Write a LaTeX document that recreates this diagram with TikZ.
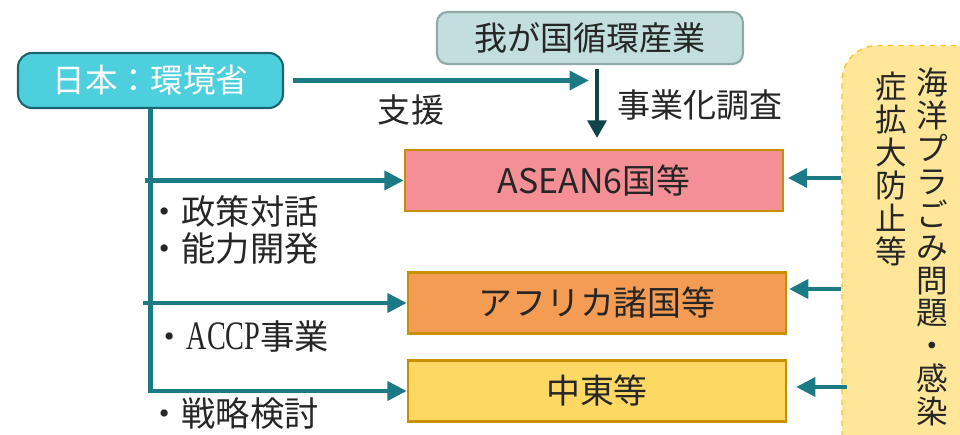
\documentclass[tikz,border=0pt]{standalone}
\usepackage{fontspec}
\setmainfont{Noto Sans CJK JP}
\newfontfamily\accpfont[FakeStretch=0.7]{Liberation Serif}
\usetikzlibrary{arrows.meta}
\definecolor{lineteal}{HTML}{1B7A84}
\definecolor{darkteal}{HTML}{0F4448}
\definecolor{jpnfill}{HTML}{4ECFDD}
\definecolor{jpnedge}{HTML}{1A6670}
\definecolor{topfill}{HTML}{C2DEDE}
\definecolor{topedge}{HTML}{90A8A6}
\definecolor{aseanfill}{HTML}{F48F96}
\definecolor{africafill}{HTML}{F49C54}
\definecolor{mefill}{HTML}{FDD964}
\definecolor{areaedge}{HTML}{C89000}
\definecolor{panelfill}{HTML}{FFE699}
\definecolor{paneledge}{HTML}{F4C430}
\definecolor{txt}{HTML}{262626}
\begin{document}
\begin{tikzpicture}[
  x=0.02cm, y=-0.02cm,
  font=\fontsize{18.8}{22}\selectfont, text=txt,
  jpnbox/.style={draw=jpnedge, fill=jpnfill, rounded corners=8pt, line width=1.2pt, minimum width=5.3cm, minimum height=1.1cm, text=white, font=\fontsize{18.6}{22}\selectfont},
  topbox/.style={draw=topedge, fill=topfill, rounded corners=6pt, line width=1.2pt, minimum width=6.12cm, minimum height=1.04cm},
  areabox/.style={draw=areaedge, line width=1.4pt, minimum width=7.56cm, minimum height=1.22cm, font=\fontsize{19.3}{22}\selectfont},
  panelbox/.style={draw=paneledge, fill=panelfill, dashed, rounded corners=20pt, line width=0.8pt, minimum width=3.2cm, minimum height=8.5cm},
  vtext/.style={align=center, inner sep=0pt, anchor=north, font=\fontsize{18}{18.7}\selectfont},
  item/.style={anchor=west, inner sep=0pt, font=\fontsize{19.5}{22}\selectfont},
  arrow/.style={-{Triangle[length=11pt, width=10.5pt]}, draw=lineteal, line width=2.8pt},
  downarrow/.style={-{Triangle[length=10pt, width=10.5pt]}, draw=darkteal, line width=2.8pt}
]
\useasboundingbox (0,0) rectangle (960,435);
% boxes
\node[jpnbox] (jpn) at (150.5,80.5) {日本：環境省};
\node[topbox] (sangyo) at (590,38) {我が国循環産業};
\node[areabox, fill=aseanfill] (asean) at (594,180.5) {ASEAN6国等};
\node[areabox, fill=africafill] (africa) at (597,303) {アフリカ諸国等};
\node[areabox, fill=mefill] (mideast) at (597,391) {中東等};
\node[panelbox] (panel) at (922,258) {};
\node[vtext] (col1) at (932,68) {海\\洋\\プ\\ラ\\ご\\み\\問\\題\\・\\感\\染};
\node[vtext] (col2) at (891,72) {症\\拡\\大\\防\\止\\等};
% labels
\node (shien) at (411,110) {支援};
\node (chosa) at (700,105) {事業化調査};
\node[item] (it1) at (147,211) {・政策対話};
\node[item] (it2) at (147,249) {・能力開発};
\node[item] (it3) at (152,337) {・{\accpfont\fontsize{23}{22}\selectfont ACCP}事業};
\node[item] (it4) at (147,413) {・戦略検討};
% connectors
\coordinate (supend) at (589,80.5);
\coordinate (chosaend) at (597,138);
\coordinate (b1) at (145,180.5);
\coordinate (b2) at (143,303);
\draw[arrow, shorten <=5pt] (jpn.east |- supend) -- (supend);
\draw[downarrow, shorten <=2pt] (sangyo.south -| chosaend) -- (chosaend);
\draw[arrow] (jpn.south) |- (mideast.west);
\draw[arrow] (b1) -- (asean);
\draw[arrow] (b2) -- (africa);
\draw[arrow, shorten >=2pt] (panel.west |- 0,178) -- (asean.east |- 0,178);
\draw[arrow, shorten >=1pt] (panel.west |- 0,289) -- (africa.east |- 0,289);
\draw[arrow, shorten <=-3pt, shorten >=5pt] (panel.west |- 0,387) -- (mideast.east |- 0,387);
\end{tikzpicture}
\end{document}
